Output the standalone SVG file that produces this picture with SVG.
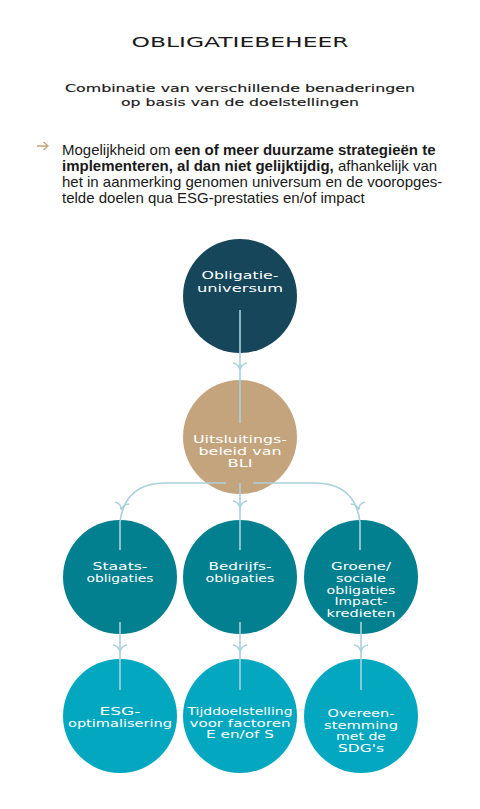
<svg xmlns="http://www.w3.org/2000/svg" xmlns:xlink="http://www.w3.org/1999/xlink" width="480" height="809" viewBox="0 0 480 809">
<style>
.wide{font-family:"DejaVu Sans",sans-serif;text-anchor:middle}
.title{font-size:14px;fill:#1a1a1a}
.sub{font-size:10px;fill:#1a1a1a;stroke:#1a1a1a;stroke-width:0.15}
.ct{font-size:10px;fill:#ffffff}
.para{font-family:"Liberation Sans",Arial,sans-serif;font-size:15px;fill:#1a1a1a}
.b{font-weight:bold}
.conn{fill:none;stroke:#a9d1dc;stroke-width:1.6}
.navy{fill:#15465a}
.tan{fill:#c3a47d}
.teal{fill:#02808f}
.light{fill:#03a8c0}
</style>
<defs>
<path id="ah" d="M-7,-6 Q-1,-5 0,1 M7,-6 Q1,-5 0,1" class="conn"/>
</defs>
<rect width="480" height="809" fill="#ffffff"/>
<g id="header">
<text class="wide title" x="240" y="47" textLength="217" lengthAdjust="spacingAndGlyphs">OBLIGATIEBEHEER</text>
<text class="wide sub" x="240" y="92" textLength="350" lengthAdjust="spacingAndGlyphs">Combinatie van verschillende benaderingen</text>
<text class="wide sub" x="240" y="106" textLength="238" lengthAdjust="spacingAndGlyphs">op basis van de doelstellingen</text>
</g>
<g id="intro">
<path d="M37,146 H48 M43.5,142 L48,146 L43.5,150" fill="none" stroke="#c3a47d" stroke-width="1.3"/>
<text class="para" x="62" y="155">Mogelijkheid om <tspan class="b"> een of meer duurzame strategieën te</tspan></text>
<text class="para" x="62" y="171"><tspan class="b">implementeren, al dan niet gelijktijdig,</tspan> afhankelijk van</text>
<text class="para" x="62" y="187">het in aanmerking genomen universum en de vooropges-</text>
<text class="para" x="62" y="203">telde doelen qua ESG-prestaties en/of impact</text>
</g>
<g id="node-universum">
<circle class="navy" cx="240" cy="296" r="57"/>
<text class="wide ct" x="240" y="279" textLength="77" lengthAdjust="spacingAndGlyphs">Obligatie-</text>
<text class="wide ct" x="240" y="292" textLength="86" lengthAdjust="spacingAndGlyphs">universum</text>
</g>
<g id="node-uitsluiting">
<circle class="tan" cx="240" cy="437" r="57"/>
<text class="wide ct" x="240" y="443" textLength="94" lengthAdjust="spacingAndGlyphs">Uitsluitings-</text>
<text class="wide ct" x="240" y="455" textLength="83" lengthAdjust="spacingAndGlyphs">beleid van</text>
<text class="wide ct" x="240" y="467" textLength="25" lengthAdjust="spacingAndGlyphs">BLI</text>
</g>
<g id="node-staats">
<circle class="teal" cx="120" cy="577" r="57"/>
<text class="wide ct" x="120" y="570" textLength="55" lengthAdjust="spacingAndGlyphs">Staats-</text>
<text class="wide ct" x="120" y="582" textLength="67" lengthAdjust="spacingAndGlyphs">obligaties</text>
</g>
<g id="node-bedrijfs">
<circle class="teal" cx="240" cy="577" r="57"/>
<text class="wide ct" x="240" y="570" textLength="63" lengthAdjust="spacingAndGlyphs">Bedrijfs-</text>
<text class="wide ct" x="240" y="582" textLength="69" lengthAdjust="spacingAndGlyphs">obligaties</text>
</g>
<g id="node-groene">
<circle class="teal" cx="361" cy="577" r="57"/>
<text class="wide ct" x="361" y="570" textLength="60" lengthAdjust="spacingAndGlyphs">Groene/</text>
<text class="wide ct" x="361" y="582" textLength="50" lengthAdjust="spacingAndGlyphs">sociale</text>
<text class="wide ct" x="361" y="593.5" textLength="69" lengthAdjust="spacingAndGlyphs">obligaties</text>
<text class="wide ct" x="361" y="605" textLength="53" lengthAdjust="spacingAndGlyphs">Impact-</text>
<text class="wide ct" x="361" y="616.5" textLength="69" lengthAdjust="spacingAndGlyphs">kredieten</text>
</g>
<g id="node-esg">
<circle class="light" cx="120" cy="716" r="57"/>
<text class="wide ct" x="120" y="714.5" textLength="41" lengthAdjust="spacingAndGlyphs">ESG-</text>
<text class="wide ct" x="120" y="726.5" textLength="104" lengthAdjust="spacingAndGlyphs">optimalisering</text>
</g>
<g id="node-tijd">
<circle class="light" cx="240" cy="716" r="57"/>
<text class="wide ct" x="240" y="715" textLength="105" lengthAdjust="spacingAndGlyphs">Tijddoelstelling</text>
<text class="wide ct" x="240" y="726.5" textLength="101" lengthAdjust="spacingAndGlyphs">voor factoren</text>
<text class="wide ct" x="240" y="738" textLength="68" lengthAdjust="spacingAndGlyphs">E en/of S</text>
</g>
<g id="node-sdg">
<circle class="light" cx="361" cy="716" r="57"/>
<text class="wide ct" x="361" y="717" textLength="67" lengthAdjust="spacingAndGlyphs">Overeen-</text>
<text class="wide ct" x="361" y="728.5" textLength="74" lengthAdjust="spacingAndGlyphs">stemming</text>
<text class="wide ct" x="361" y="740" textLength="50" lengthAdjust="spacingAndGlyphs">met de</text>
<text class="wide ct" x="361" y="751.5" textLength="46" lengthAdjust="spacingAndGlyphs">SDG's</text>
</g>
<g id="connectors">
<path class="conn" d="M240,310 V423"/>
<use xlink:href="#ah" x="240" y="369"/>
<path class="conn" d="M226,483 H165 Q125,483 120,522 V550"/>
<use xlink:href="#ah" transform="translate(121.5,509) rotate(8)"/>
<path class="conn" d="M240,483 V550"/>
<use xlink:href="#ah" x="240" y="507"/>
<path class="conn" d="M253,483 H315 Q355,483 360,522 V550"/>
<use xlink:href="#ah" transform="translate(358.5,509) rotate(-8)"/>
<path class="conn" d="M120,622 V690"/>
<use xlink:href="#ah" x="120" y="651"/>
<path class="conn" d="M240,622 V690"/>
<use xlink:href="#ah" x="240" y="651"/>
<path class="conn" d="M361,622 V690"/>
<use xlink:href="#ah" x="361" y="651"/>
</g>
</svg>
